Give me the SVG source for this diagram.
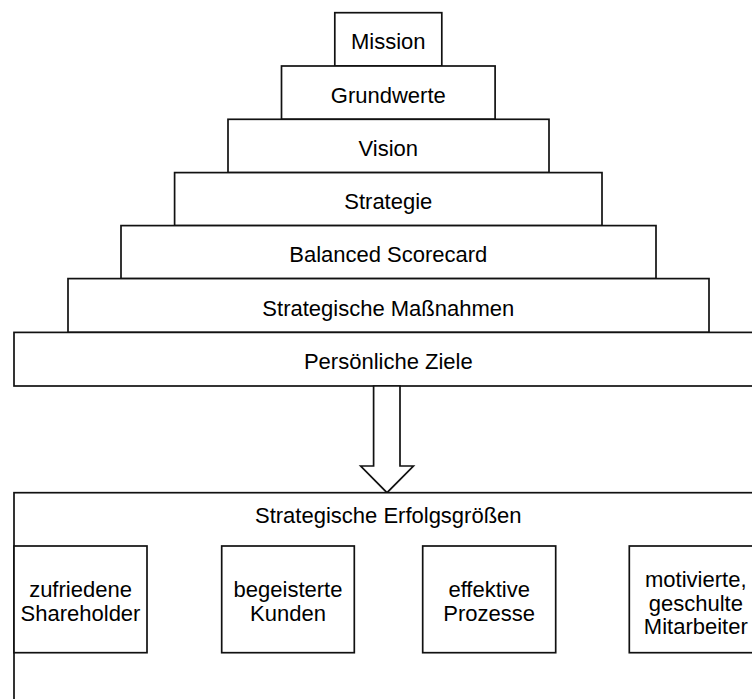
<svg xmlns="http://www.w3.org/2000/svg" width="752" height="699" viewBox="0 0 752 699">
  <style>
    .box { fill: #ffffff; stroke: #111111; stroke-width: 1.7; }
    .lbl { font-family: "Liberation Sans", Arial, sans-serif; font-size: 22px; fill: #000000; text-anchor: middle; }
    .arrow { fill: #ffffff; stroke: #111111; stroke-width: 1.7; stroke-linejoin: miter; }
  </style>
  <rect x="0" y="0" width="752" height="699" fill="#ffffff"/>

  <!-- pyramid, top to bottom -->
  <g id="mission">
    <rect class="box" x="334.8" y="12.7" width="107" height="53.3"/>
    <text class="lbl" x="388.3" y="49.3">Mission</text>
  </g>
  <g id="grundwerte">
    <rect class="box" x="281.5" y="66" width="213.6" height="53.3"/>
    <text class="lbl" x="388.3" y="102.7">Grundwerte</text>
  </g>
  <g id="vision">
    <rect class="box" x="228" y="119.3" width="321" height="53.3"/>
    <text class="lbl" x="388.3" y="156">Vision</text>
  </g>
  <g id="strategie">
    <rect class="box" x="174.6" y="172.6" width="427.4" height="53"/>
    <text class="lbl" x="388.3" y="209.3">Strategie</text>
  </g>
  <g id="bsc">
    <rect class="box" x="121" y="225.6" width="535" height="53"/>
    <text class="lbl" x="388.3" y="262.3">Balanced Scorecard</text>
  </g>
  <g id="massnahmen">
    <rect class="box" x="68" y="278.6" width="641" height="53.8"/>
    <text class="lbl" x="388.3" y="315.8">Strategische Maßnahmen</text>
  </g>
  <g id="ziele">
    <rect class="box" x="14" y="332.4" width="749" height="53.6"/>
    <text class="lbl" x="388.3" y="368.8">Persönliche Ziele</text>
  </g>

  <!-- block arrow down to the success factors -->
  <g id="connectors">
    <polygon class="arrow" points="373.6,386 400,386 400,466 413.4,466 387,492.7 360.7,466 373.6,466"/>
  </g>

  <!-- success factors container -->
  <g id="erfolgsgroessen">
    <rect class="box" x="14" y="492.7" width="760" height="230"/>
    <text class="lbl" x="388.3" y="522.5">Strategische Erfolgsgrößen</text>
  </g>
  <g id="shareholder">
    <rect class="box" x="14" y="546" width="133" height="106.7"/>
    <text class="lbl" x="80.5" y="597.2">zufriedene</text>
    <text class="lbl" x="80.5" y="620.5">Shareholder</text>
  </g>
  <g id="kunden">
    <rect class="box" x="221.7" y="546" width="132.6" height="106.7"/>
    <text class="lbl" x="288" y="597.2">begeisterte</text>
    <text class="lbl" x="288" y="620.5">Kunden</text>
  </g>
  <g id="prozesse">
    <rect class="box" x="422.7" y="546" width="133" height="106.7"/>
    <text class="lbl" x="489.2" y="597.2">effektive</text>
    <text class="lbl" x="489.2" y="620.5">Prozesse</text>
  </g>
  <g id="mitarbeiter">
    <rect class="box" x="629.3" y="546" width="133" height="106.7"/>
    <text class="lbl" x="695.8" y="587.2">motivierte,</text>
    <text class="lbl" x="695.8" y="610.5">geschulte</text>
    <text class="lbl" x="695.8" y="634">Mitarbeiter</text>
  </g>
</svg>
